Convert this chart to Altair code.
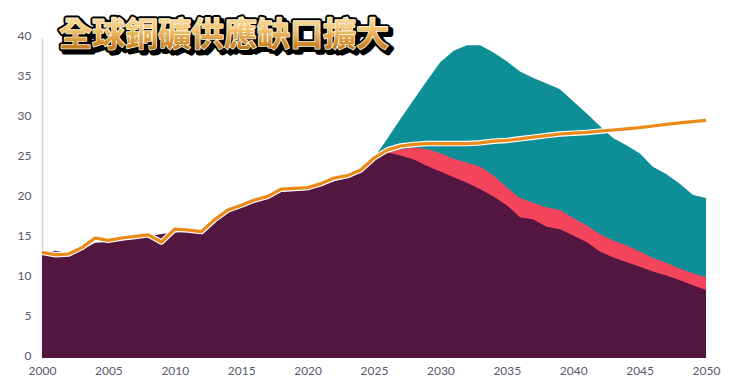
import altair as alt
import pandas as pd

# ---- data ----
years = list(range(2000, 2051))
demand = [13.2, 12.9, 13.0, 13.8, 15.0, 14.7, 15.0, 15.2, 15.4, 14.5,
          16.1, 16.0, 15.8, 17.3, 18.5, 19.1, 19.75, 20.2, 21.1, 21.2,
          21.3, 21.8, 22.5, 22.8, 23.5, 25.0, 26.0, 26.5, 26.7, 26.8,
          26.8, 26.8, 26.8, 26.9, 27.1, 27.2, 27.4, 27.6, 27.8, 28.0,
          28.1, 28.2, 28.35, 28.5, 28.65, 28.8, 29.0, 29.2, 29.4, 29.55, 29.7]
existing = [13.0, 13.4, 13.1, 13.5, 14.4, 14.5, 14.8, 15.0, 15.2, 15.5,
            15.7, 15.8, 16.2, 17.6, 18.3, 18.9, 19.8, 19.9, 20.8, 20.9,
            21.0, 21.5, 22.1, 22.5, 23.3, 24.8, 25.7, 25.3, 24.8, 24.0,
            23.3, 22.6, 21.9, 21.1, 20.2, 19.1, 17.6, 17.3, 16.4, 16.1,
            15.3, 14.5, 13.3, 12.6, 12.0, 11.4, 10.8, 10.3, 9.75, 9.1, 8.5]
future_years = list(range(2025, 2051))
probable = [24.9, 25.9, 26.1, 26.3, 26.1, 25.6, 24.9, 24.4, 23.9, 22.8,
            21.3, 20.0, 19.4, 18.8, 18.5, 17.5, 16.6, 15.5, 14.7, 14.1,
            13.3, 12.5, 11.9, 11.2, 10.6, 10.1]
potential = [25.0, 27.4, 29.9, 32.3, 34.7, 37.0, 38.4, 39.1, 39.1, 38.2,
             37.1, 35.8, 35.0, 34.3, 33.6, 32.1, 30.6, 29.0, 27.5, 26.6,
             25.6, 23.9, 23.0, 21.8, 20.4, 20.0]
y_ticks = [0, 5, 10, 15, 20, 25, 30, 35, 40]
x_ticks = [2000, 2005, 2010, 2015, 2020, 2025, 2030, 2035, 2040, 2045, 2050]
title_text = "全球銅礦供應缺口擴大"

hist = pd.DataFrame({"year": years, "demand": demand, "existing": existing})
fut = pd.DataFrame({"year": future_years, "probable": probable, "potential": potential})
title_df = pd.DataFrame({"t": [title_text]})

xaxis = alt.Axis(values=x_ticks, format="d", domain=False, ticks=False, grid=False,
                 labelPadding=7, labelFlush=False, labelOverlap=False, title=None)
yaxis = alt.Axis(values=y_ticks, domain=True, domainColor="#d6d6d9", domainWidth=1.5,
                 ticks=False, grid=False, labelPadding=11, labelOffset=-3,
                 labelOverlap=False, labelFlush=False, title=None)
xscale = alt.Scale(domain=[2000, 2050], nice=False, zero=False)
yscale = alt.Scale(domain=[0, 40], nice=False)


def X():
    return alt.X("year:Q", scale=xscale, axis=xaxis)


def Y(field):
    return alt.Y(field + ":Q", scale=yscale, axis=yaxis)


teal = alt.Chart(fut).mark_area(color="#0E8F97", opacity=1).encode(x=X(), y=Y("potential"))
red = alt.Chart(fut).mark_area(color="#F5455C", opacity=1).encode(x=X(), y=Y("probable"))
purple = alt.Chart(hist).mark_area(color="#521641", opacity=1).encode(x=X(), y=Y("existing"))
halo = alt.Chart(hist).mark_line(color="white", strokeWidth=5.5, strokeJoin="round").encode(
    x=X(), y=Y("demand"))
line = alt.Chart(hist).mark_line(color="#EB8A17", strokeWidth=3.2, strokeJoin="round").encode(
    x=X(), y=Y("demand"))

font = "Noto Sans CJK TC"
tx, ty, fs = 17, -2, 33
shadow = alt.Chart(title_df).mark_text(
    font=font, fontSize=fs, fontWeight="bold", align="left", baseline="middle",
    fill="#000000", stroke="#000000", strokeWidth=6, strokeJoin="round", dx=3, dy=3
).encode(x=alt.value(tx), y=alt.value(ty), text="t:N")
outline = alt.Chart(title_df).mark_text(
    font=font, fontSize=fs, fontWeight="bold", align="left", baseline="middle",
    fill="#000000", stroke="#000000", strokeWidth=5.5, strokeJoin="round"
).encode(x=alt.value(tx), y=alt.value(ty), text="t:N")
inner = alt.Chart(title_df).mark_text(
    font=font, fontSize=fs, fontWeight="bold", align="left", baseline="middle",
    fill="#FFF6DD", stroke="#FFF6DD", strokeWidth=1.6, strokeJoin="round"
).encode(x=alt.value(tx), y=alt.value(ty), text="t:N")
gold = alt.Chart(title_df).mark_text(
    font=font, fontSize=fs, fontWeight="bold", align="left", baseline="middle",
    fill=alt.Gradient(gradient="linear", x1=0, y1=0, x2=0, y2=1,
                      stops=[alt.GradientStop(color="#FFF2CC", offset=0),
                             alt.GradientStop(color="#F2C470", offset=0.45),
                             alt.GradientStop(color="#D08A2C", offset=0.75),
                             alt.GradientStop(color="#A8620E", offset=1)])
).encode(x=alt.value(tx), y=alt.value(ty), text="t:N")

chart = alt.layer(teal, red, purple, halo, line, shadow, outline, inner, gold).properties(
    width=664, height=320,
    autosize=alt.AutoSizeParams(type="none"),
    padding={"left": 34, "top": 30, "right": 26, "bottom": 19},
).configure_view(stroke=None).configure_axis(
    labelFont="Lato", labelFontSize=12, labelColor="#5a5a6c", labelOverlap=False
)

chart.save("out.html", embed_options={"renderer": "svg", "actions": False})
